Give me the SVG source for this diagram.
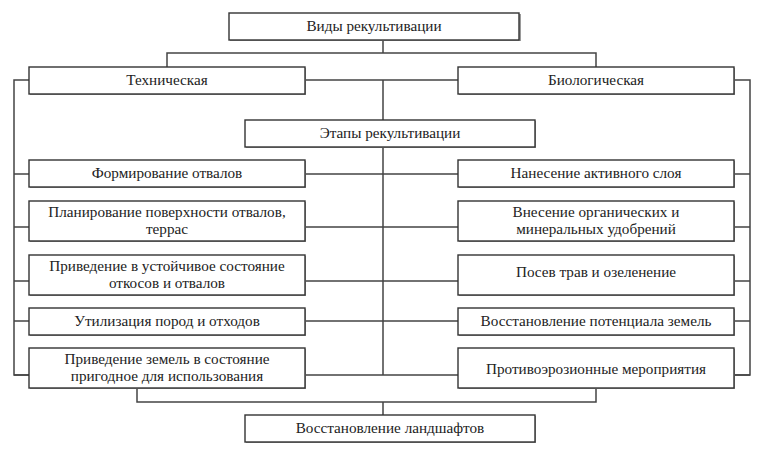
<svg xmlns="http://www.w3.org/2000/svg" width="766" height="469" viewBox="0 0 766 469">
<style>
.b{fill:#fff;stroke:#333;stroke-width:1.4}
.s{fill:#9a9a9a}
.c{fill:none;stroke:#444;stroke-width:1.5}
text{font-size:15.2px;fill:#222;text-anchor:middle}
</style>
<rect width="766" height="469" fill="#fff"/>
<g id="connectors">
<path class="c" d="M383 40V53M167 67V53H596V67M305 80H458M383 80V120M29 80H14V375H29M734 80H750V375H734M383 147V375"/>
<path class="c" d="M14 174H29M305 174H458M734 174H750M14 227H29M305 227H458M734 227H750M14 281H29M305 281H458M734 281H750M14 321H29M305 321H458M734 321H750M14 375H29M305 375H458M734 375H750"/>
<path class="c" d="M137 388V402H596V388M383 402V415"/>
</g>
<g font-family="Liberation Serif, DejaVu Serif, serif">
<g id="n0"><rect class="s" x="230" y="14" width="291" height="27"/><rect class="b" x="229" y="13" width="290" height="27"/><text x="374" y="31">Виды рекультивации</text></g>
<g id="n1"><rect class="s" x="30" y="68" width="276" height="27"/><rect class="b" x="29" y="67" width="276" height="27"/><text x="167" y="85">Техническая</text></g>
<g id="n2"><rect class="s" x="459" y="68" width="276" height="27"/><rect class="b" x="458" y="67" width="276" height="27"/><text x="596" y="85">Биологическая</text></g>
<g id="n3"><rect class="s" x="246" y="121" width="290" height="27"/><rect class="b" x="245" y="120" width="290" height="27"/><text x="390" y="138">Этапы рекультивации</text></g>
<g id="l1"><rect class="s" x="30" y="161" width="276" height="27"/><rect class="b" x="29" y="160" width="276" height="27"/><text x="167" y="178">Формирование отвалов</text></g>
<g id="l2"><rect class="s" x="30" y="202" width="276" height="40"/><rect class="b" x="29" y="201" width="276" height="40"/><text x="167" y="217">Планирование поверхности отвалов,</text><text x="167" y="234">террас</text></g>
<g id="l3"><rect class="s" x="30" y="256" width="276" height="40"/><rect class="b" x="29" y="255" width="276" height="40"/><text x="167" y="271">Приведение в устойчивое состояние</text><text x="167" y="288">откосов и отвалов</text></g>
<g id="l4"><rect class="s" x="30" y="309" width="276" height="27"/><rect class="b" x="29" y="308" width="276" height="27"/><text x="167" y="326">Утилизация пород и отходов</text></g>
<g id="l5"><rect class="s" x="30" y="349" width="276" height="40"/><rect class="b" x="29" y="348" width="276" height="40"/><text x="167" y="364">Приведение земель в состояние</text><text x="167" y="381">пригодное для использования</text></g>
<g id="r1"><rect class="s" x="459" y="161" width="276" height="27"/><rect class="b" x="458" y="160" width="276" height="27"/><text x="596" y="178">Нанесение активного слоя</text></g>
<g id="r2"><rect class="s" x="459" y="202" width="276" height="40"/><rect class="b" x="458" y="201" width="276" height="40"/><text x="596" y="217">Внесение органических и</text><text x="596" y="234">минеральных удобрений</text></g>
<g id="r3"><rect class="s" x="459" y="256" width="276" height="40"/><rect class="b" x="458" y="255" width="276" height="40"/><text x="596" y="277">Посев трав и озеленение</text></g>
<g id="r4"><rect class="s" x="459" y="309" width="276" height="27"/><rect class="b" x="458" y="308" width="276" height="27"/><text x="596" y="326">Восстановление потенциала земель</text></g>
<g id="r5"><rect class="s" x="459" y="349" width="276" height="40"/><rect class="b" x="458" y="348" width="276" height="40"/><text x="596" y="374">Противоэрозионные мероприятия</text></g>
<g id="n4"><rect class="s" x="246" y="416" width="290" height="27"/><rect class="b" x="245" y="415" width="290" height="27"/><text x="390" y="433">Восстановление ландшафтов</text></g>
</g>
</svg>
